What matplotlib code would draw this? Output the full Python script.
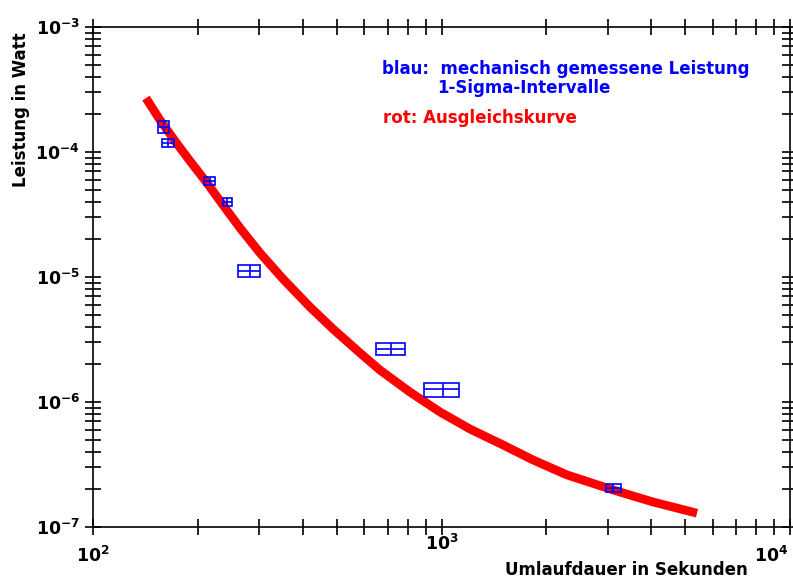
import matplotlib
matplotlib.use("Agg")
import matplotlib.pyplot as plt
from matplotlib.patches import Rectangle
from matplotlib.transforms import blended_transform_factory

plt.rcParams['font.family'] = ['DejaVu Sans']
plt.rcParams['font.weight'] = 'bold'
plt.rcParams['mathtext.fontset'] = 'dejavusans'
plt.rcParams['mathtext.default'] = 'bf'

# Messwerte (blau): Umlaufdauer [s], Leistung [W] und 1-Sigma
T_mess = [159.7, 164.1, 216.7, 242.9, 281.8, 717.8, 1008.6, 3115]
dT_mess = [6.0, 6.2, 7.8, 6.8, 20.5, 70, 115, 150]
P_mess = [1.585e-4, 1.18e-4, 5.86e-5, 3.98e-5, 1.127e-5, 2.66e-6, 1.26e-6, 2.05e-7]
dP_mess = [1.7e-5, 9e-6, 4.6e-6, 3.1e-6, 1.18e-6, 2.8e-7, 1.7e-7, 1.56e-8]

# Ausgleichskurve (rot)
T_fit = [141.9, 155.7, 171.9, 189.8, 212.4, 236.0, 264.1, 301.5, 351.0, 419.5,
         488.3, 583.5, 666.1, 812.2, 990.1, 1207, 1502, 1830, 2292, 3105,
         4046, 5409]
P_fit = [2.70e-4, 1.803e-4, 1.225e-4, 8.47e-5, 5.65e-5, 3.77e-5, 2.47e-5,
         1.556e-5, 9.64e-6, 5.75e-6, 3.84e-6, 2.47e-6, 1.80e-6, 1.20e-6,
         8.32e-7, 6.08e-7, 4.53e-7, 3.44e-7, 2.61e-7, 1.98e-7, 1.585e-7,
         1.29e-7]

x_ticks = [100, 1000, 10000]
x_labels = ['$10^{2}$', '$10^{3}$', '$10^{4}$']

W, H = 793, 582
fig = plt.figure(figsize=(W / 100, H / 100), dpi=100)
ax = fig.add_axes([93 / W, 1 - 527 / H, 697 / W, 500 / H])

ax.set_xscale('log')
ax.set_yscale('log')
ax.set_xlim(100, 10000)
ax.set_ylim(1e-7, 1e-3)

ax.plot(T_fit, P_fit, color='#ff0000', lw=6.3, solid_capstyle='butt', zorder=2)

for t, dt, p, dp in zip(T_mess, dT_mess, P_mess, dP_mess):
    ax.add_patch(Rectangle((t - dt, p - dp), 2 * dt, 2 * dp, fill=False,
                           edgecolor='#0000ff', lw=1.2, zorder=3))
ax.errorbar(T_mess, P_mess, xerr=dT_mess, yerr=dP_mess, fmt='none',
            ecolor='#0000ff', elinewidth=1.2, capsize=0, zorder=3)

for s in ax.spines.values():
    s.set_linewidth(1.2)
    s.set_color('black')

ax.tick_params(which='both', direction='inout', length=11, width=1.2,
               top=True, right=True, labelbottom=False, labelsize=12.5, pad=4)

# x-Beschriftung (versetzt wie im Original)
trans = blended_transform_factory(ax.transData, fig.transFigure)
for xv, lab, py, ha in zip(x_ticks, x_labels, [556, 544, 556],
                           ['center', 'center', 'right']):
    xx = xv * 0.99 if ha == 'right' else xv
    ax.text(xx, 1 - py / H, lab, transform=trans, fontsize=12.5,
            ha=ha, va='center', clip_on=False)

fig.text(505 / W, 1 - 570 / H, 'Umlaufdauer in Sekunden', fontsize=12,
         ha='left', va='center')
fig.text(21 / W, 1 - 110 / H, 'Leistung in Watt', fontsize=12,
         rotation=90, ha='center', va='center')

fig.text(382 / W, 1 - 69 / H, 'blau:  mechanisch gemessene Leistung',
         color='#0000ff', fontsize=12, ha='left', va='center')
fig.text(437 / W, 1 - 88 / H, '1-Sigma-Intervalle',
         color='#0000ff', fontsize=12, ha='left', va='center')
fig.text(383 / W, 1 - 118 / H, 'rot: Ausgleichskurve',
         color='#ff0000', fontsize=12, ha='left', va='center')

fig.savefig('out.png', dpi=100)
